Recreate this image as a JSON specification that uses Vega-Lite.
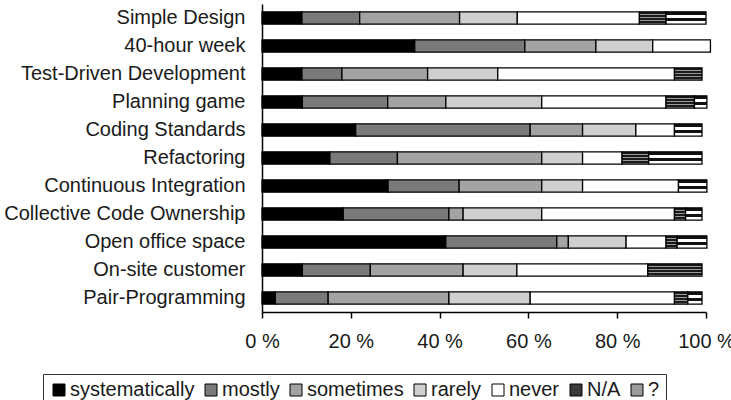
{
  "$schema": "https://vega.github.io/schema/vega-lite/v6.json",
  "width": 444,
  "height": 308,
  "autosize": {"type": "none"},
  "padding": {"left": 262, "top": 4, "right": 25, "bottom": 88},
  "background": "white",
  "config": {"view": {"stroke": null}, "font": "Liberation Sans"},
  "data": {
    "values": [
      {"p": "Simple Design", "l": "systematically", "v": 9},
      {"p": "Simple Design", "l": "mostly", "v": 13},
      {"p": "Simple Design", "l": "sometimes", "v": 22.5},
      {"p": "Simple Design", "l": "rarely", "v": 13},
      {"p": "Simple Design", "l": "never", "v": 27.5},
      {"p": "Simple Design", "l": "N/A", "v": 6},
      {"p": "Simple Design", "l": "?", "v": 9},
      {"p": "40-hour week", "l": "systematically", "v": 34.4},
      {"p": "40-hour week", "l": "mostly", "v": 24.8},
      {"p": "40-hour week", "l": "sometimes", "v": 16},
      {"p": "40-hour week", "l": "rarely", "v": 12.8},
      {"p": "40-hour week", "l": "never", "v": 13},
      {"p": "Test-Driven Development", "l": "systematically", "v": 9},
      {"p": "Test-Driven Development", "l": "mostly", "v": 9},
      {"p": "Test-Driven Development", "l": "sometimes", "v": 19.3},
      {"p": "Test-Driven Development", "l": "rarely", "v": 15.8},
      {"p": "Test-Driven Development", "l": "never", "v": 39.8},
      {"p": "Test-Driven Development", "l": "N/A", "v": 6.2},
      {"p": "Planning game", "l": "systematically", "v": 9.1},
      {"p": "Planning game", "l": "mostly", "v": 19.2},
      {"p": "Planning game", "l": "sometimes", "v": 13.1},
      {"p": "Planning game", "l": "rarely", "v": 21.6},
      {"p": "Planning game", "l": "never", "v": 28},
      {"p": "Planning game", "l": "N/A", "v": 6.4},
      {"p": "Planning game", "l": "?", "v": 2.8},
      {"p": "Coding Standards", "l": "systematically", "v": 21.1},
      {"p": "Coding Standards", "l": "mostly", "v": 39.3},
      {"p": "Coding Standards", "l": "sometimes", "v": 11.8},
      {"p": "Coding Standards", "l": "rarely", "v": 12},
      {"p": "Coding Standards", "l": "never", "v": 8.7},
      {"p": "Coding Standards", "l": "?", "v": 6.2},
      {"p": "Refactoring", "l": "systematically", "v": 15.3},
      {"p": "Refactoring", "l": "mostly", "v": 15.2},
      {"p": "Refactoring", "l": "sometimes", "v": 32.5},
      {"p": "Refactoring", "l": "rarely", "v": 9.2},
      {"p": "Refactoring", "l": "never", "v": 8.9},
      {"p": "Refactoring", "l": "N/A", "v": 6},
      {"p": "Refactoring", "l": "?", "v": 12},
      {"p": "Continuous Integration", "l": "systematically", "v": 28.4},
      {"p": "Continuous Integration", "l": "mostly", "v": 16},
      {"p": "Continuous Integration", "l": "sometimes", "v": 18.6},
      {"p": "Continuous Integration", "l": "rarely", "v": 9.2},
      {"p": "Continuous Integration", "l": "never", "v": 21.6},
      {"p": "Continuous Integration", "l": "?", "v": 6.4},
      {"p": "Collective Code Ownership", "l": "systematically", "v": 18.3},
      {"p": "Collective Code Ownership", "l": "mostly", "v": 23.8},
      {"p": "Collective Code Ownership", "l": "sometimes", "v": 3.2},
      {"p": "Collective Code Ownership", "l": "rarely", "v": 17.7},
      {"p": "Collective Code Ownership", "l": "never", "v": 29.9},
      {"p": "Collective Code Ownership", "l": "N/A", "v": 2.5},
      {"p": "Collective Code Ownership", "l": "?", "v": 3.7},
      {"p": "Open office space", "l": "systematically", "v": 41.4},
      {"p": "Open office space", "l": "mostly", "v": 25},
      {"p": "Open office space", "l": "sometimes", "v": 2.6},
      {"p": "Open office space", "l": "rarely", "v": 13},
      {"p": "Open office space", "l": "never", "v": 9},
      {"p": "Open office space", "l": "N/A", "v": 2.5},
      {"p": "Open office space", "l": "?", "v": 6.7},
      {"p": "On-site customer", "l": "systematically", "v": 9.1},
      {"p": "On-site customer", "l": "mostly", "v": 15.3},
      {"p": "On-site customer", "l": "sometimes", "v": 20.9},
      {"p": "On-site customer", "l": "rarely", "v": 12.1},
      {"p": "On-site customer", "l": "never", "v": 29.5},
      {"p": "On-site customer", "l": "N/A", "v": 12.2},
      {"p": "Pair-Programming", "l": "systematically", "v": 3},
      {"p": "Pair-Programming", "l": "mostly", "v": 11.9},
      {"p": "Pair-Programming", "l": "sometimes", "v": 27.2},
      {"p": "Pair-Programming", "l": "rarely", "v": 18.3},
      {"p": "Pair-Programming", "l": "never", "v": 32.5},
      {"p": "Pair-Programming", "l": "N/A", "v": 3},
      {"p": "Pair-Programming", "l": "?", "v": 3.2}
    ]
  },
  "transform": [
    {"calculate": "indexof(['systematically','mostly','sometimes','rarely','never','N/A','?'], datum.l)", "as": "o"}
  ],
  "mark": {"type": "bar", "stroke": "black", "strokeWidth": 1.3},
  "encoding": {
    "y": {
      "field": "p",
      "type": "nominal",
      "sort": ["Simple Design", "40-hour week", "Test-Driven Development", "Planning game", "Coding Standards", "Refactoring", "Continuous Integration", "Collective Code Ownership", "Open office space", "On-site customer", "Pair-Programming"],
      "scale": {"paddingInner": 0.56, "paddingOuter": 0.28},
      "axis": {"title": null, "ticks": false, "labelFontSize": 20, "labelColor": "#1a1a1a", "labelPadding": 17, "domainColor": "black", "domainWidth": 1.5, "labelLimit": 400}
    },
    "x": {
      "field": "v",
      "type": "quantitative",
      "stack": "zero",
      "scale": {"domain": [0, 100], "nice": false},
      "axis": {"title": null, "values": [0, 20, 40, 60, 80, 100], "labelExpr": "datum.value + ' %'", "grid": false, "tickSize": 6, "tickColor": "black", "tickWidth": 1.5, "domainColor": "black", "domainWidth": 1.5, "labelFontSize": 20, "labelPadding": 13, "labelColor": "#1a1a1a", "labelFlush": false}
    },
    "color": {
      "condition": [
        {"test": "datum.l === 'N/A'", "value": {"gradient": "linear", "x1": 0, "y1": 0, "x2": 0, "y2": 1, "stops": [
          {"offset": 0, "color": "#1a1a1a"}, {"offset": 0.17, "color": "#1a1a1a"},
          {"offset": 0.17, "color": "#9a9a9a"}, {"offset": 0.25, "color": "#9a9a9a"},
          {"offset": 0.25, "color": "#1a1a1a"}, {"offset": 0.42, "color": "#1a1a1a"},
          {"offset": 0.42, "color": "#9a9a9a"}, {"offset": 0.5, "color": "#9a9a9a"},
          {"offset": 0.5, "color": "#1a1a1a"}, {"offset": 0.67, "color": "#1a1a1a"},
          {"offset": 0.67, "color": "#9a9a9a"}, {"offset": 0.75, "color": "#9a9a9a"},
          {"offset": 0.75, "color": "#1a1a1a"}, {"offset": 0.92, "color": "#1a1a1a"},
          {"offset": 0.92, "color": "#9a9a9a"}, {"offset": 1, "color": "#9a9a9a"}
        ]}},
        {"test": "datum.l === '?'", "value": {"gradient": "linear", "x1": 0, "y1": 0, "x2": 0, "y2": 1, "stops": [
          {"offset": 0, "color": "#111111"}, {"offset": 0.25, "color": "#111111"},
          {"offset": 0.25, "color": "#ffffff"}, {"offset": 0.5, "color": "#ffffff"},
          {"offset": 0.5, "color": "#111111"}, {"offset": 0.75, "color": "#111111"},
          {"offset": 0.75, "color": "#ffffff"}, {"offset": 1, "color": "#ffffff"}
        ]}}
      ],
      "field": "l",
      "type": "nominal",
      "scale": {
        "domain": ["systematically", "mostly", "sometimes", "rarely", "never", "N/A", "?"],
        "range": ["#000000", "#7a7a7a", "#a3a3a3", "#cfcfcf", "#ffffff", "#3a3a3a", "#9c9c9c"]
      },
      "legend": {
        "title": null,
        "orient": "none",
        "legendX": -219,
        "legendY": 370,
        "direction": "horizontal",
        "columns": 7,
        "gridAlign": "none",
        "symbolType": "square",
        "symbolSize": 144,
        "symbolStrokeColor": "black",
        "symbolStrokeWidth": 1,
        "labelFontSize": 20,
        "labelColor": "#1a1a1a",
        "labelOffset": 1,
        "columnPadding": 6,
        "padding": 6,
        "strokeColor": "#333333",
        "fillColor": "white",
        "encode": {
          "symbols": {
            "update": {
              "stroke": {"value": "black"},
              "strokeWidth": {"value": 1},
              "fill": {"signal": "datum.value === 'N/A' ? {gradient: 'linear', x1: 0, y1: 0, x2: 0, y2: 1, stops: [{offset: 0, color: '#1a1a1a'}, {offset: 0.25, color: '#1a1a1a'}, {offset: 0.25, color: '#9a9a9a'}, {offset: 0.375, color: '#9a9a9a'}, {offset: 0.375, color: '#1a1a1a'}, {offset: 0.625, color: '#1a1a1a'}, {offset: 0.625, color: '#9a9a9a'}, {offset: 0.75, color: '#9a9a9a'}, {offset: 0.75, color: '#1a1a1a'}, {offset: 1, color: '#1a1a1a'}]} : datum.value === '?' ? {gradient: 'linear', x1: 0, y1: 0, x2: 1, y2: 0, stops: [{offset: 0, color: '#111111'}, {offset: 0.33, color: '#111111'}, {offset: 0.33, color: '#ffffff'}, {offset: 0.67, color: '#ffffff'}, {offset: 0.67, color: '#111111'}, {offset: 1, color: '#111111'}]} : scale('color', datum.value)"}
            }
          }
        }
      }
    },
    "order": {"field": "o", "type": "quantitative"}
  }
}
